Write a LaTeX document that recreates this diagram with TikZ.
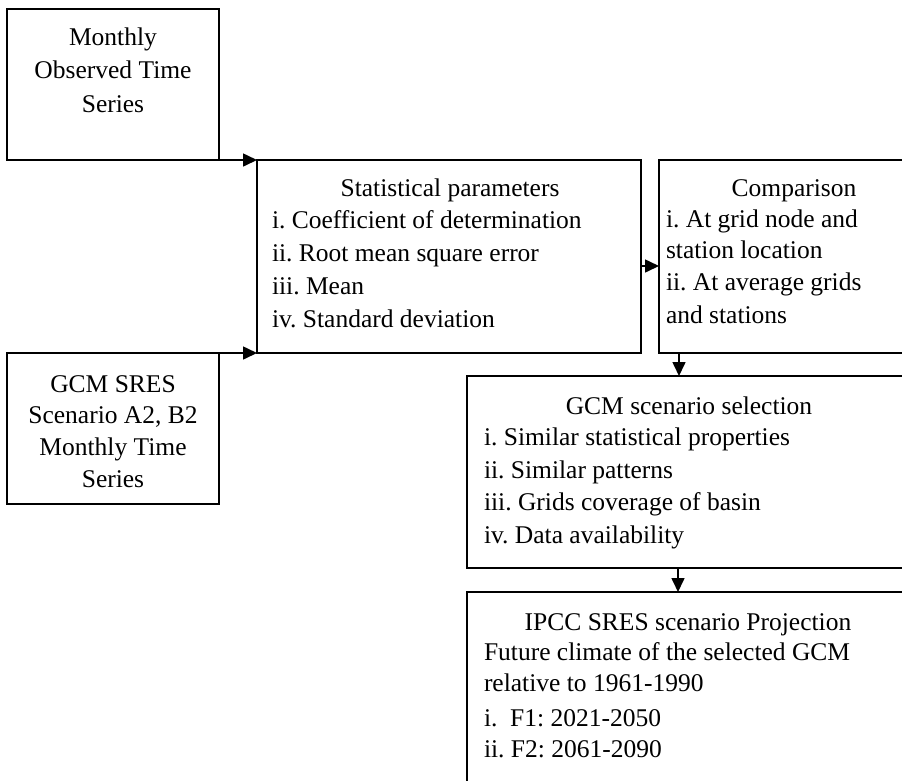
\documentclass[tikz,border=0pt]{standalone}
\usepackage{fontspec}
\setmainfont{Liberation Serif}
\usetikzlibrary{arrows.meta}
\tikzset{
  box/.style={draw=black, line width=1.8pt, inner sep=0pt, outer sep=0pt, anchor=north west, fill=white},
  arr/.style={line width=1.6pt, -{Triangle[length=14pt,width=13pt]}},
  txt/.style={inner sep=0pt, outer sep=0pt, font=\fontsize{25.5}{32}\selectfont\frenchspacing},
  ctr/.style={txt, anchor=base},
  lft/.style={txt, anchor=base west}
}
\begin{document}
\begin{tikzpicture}[x=1pt,y=-1pt]
\useasboundingbox (0,0) rectangle (902,780);
\fill[white] (0,0) rectangle (902,780);
\clip (0,0) rectangle (902,780);
% boxes
\node[box, minimum width=212pt, minimum height=151pt] (mon) at (7,9) {};
\node[box, minimum width=212pt, minimum height=151pt] (gcm) at (7,353) {};
\node[box, minimum width=384pt, minimum height=193pt] (stats) at (257,160) {};
\node[box, minimum width=268pt, minimum height=193pt] (comp) at (659,160) {};
\node[box, minimum width=460pt, minimum height=192pt] (sel) at (467,376) {};
\node[box, minimum width=460pt, minimum height=240pt] (ipcc) at (467,592) {};
% texts: Monthly observed
\node[ctr] (m1) at (113,45) {Monthly};
\node[ctr] (m2) at (113,78) {Observed Time};
\node[ctr] (m3) at (113,112) {Series};
% GCM SRES
\node[ctr] (g1) at (113,392) {GCM SRES};
\node[ctr] (g2) at (113,423) {Scenario A2, B2};
\node[ctr] (g3) at (113,455) {Monthly Time};
\node[ctr] (g4) at (113,487) {Series};
% Statistical parameters
\node[ctr] (s0) at (450,196) {Statistical parameters};
\node[lft] (s1) at (272,228) {i. Coefficient of determination};
\node[lft] (s2) at (272,261) {ii. Root mean square error};
\node[lft] (s3) at (272,294) {iii. Mean};
\node[lft] (s4) at (272,327) {iv. Standard deviation};
% Comparison
\node[ctr] (c0) at (794,196) {Comparison};
\node[lft] (c1) at (666,227) {i. At grid node and};
\node[lft] (c2) at (666,258) {station location};
\node[lft] (c3) at (666,290) {ii. At average grids};
\node[lft] (c4) at (666,323) {and stations};
% GCM scenario selection
\node[ctr] (e0) at (689,414) {GCM scenario selection};
\node[lft] (e1) at (484,445) {i. Similar statistical properties};
\node[lft] (e2) at (484,478) {ii. Similar patterns};
\node[lft] (e3) at (484,510) {iii. Grids coverage of basin};
\node[lft] (e4) at (484,543) {iv. Data availability};
% IPCC
\node[ctr] (p0) at (688,630) {IPCC SRES scenario Projection};
\node[lft] (p1) at (484,660) {Future climate of the selected GCM};
\node[lft] (p2) at (484,691) {relative to 1961-1990};
\node[lft] (p3) at (484,726) {i.\ \ F1: 2021-2050};
\node[lft] (p4) at (484,757) {ii. F2: 2061-2090};
% connectors
\coordinate (ya) at (0,266);
\coordinate (xa) at (679,0);
\coordinate (xb) at (678,0);
\draw[arr] (mon.south east) -- (stats.north west);
\draw[arr] (gcm.north east) -- (stats.south west);
\draw[arr] (stats.east |- ya) -- (comp.west |- ya);
\draw[arr] (comp.south -| xa) -- (sel.north -| xa);
\draw[arr] (sel.south -| xb) -- (ipcc.north -| xb);
\end{tikzpicture}
\end{document}
